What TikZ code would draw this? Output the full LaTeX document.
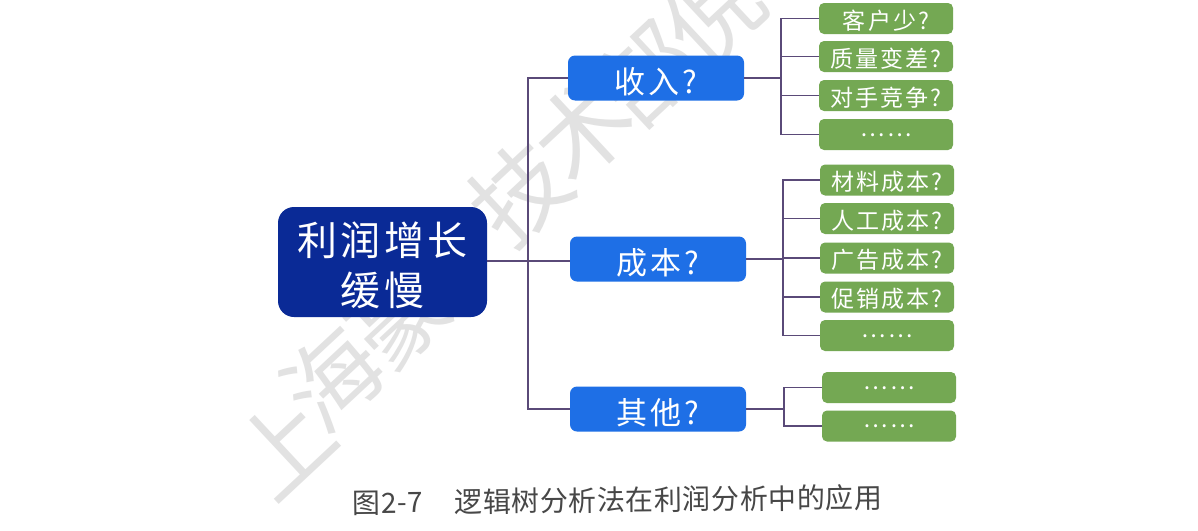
\documentclass[tikz,border=0pt]{standalone}
\usepackage{fontspec}
\setmainfont{Noto Sans CJK SC}
\newfontfamily\boxfont[LetterSpace=9]{Noto Sans CJK SC}
\newfontfamily\capfont[LetterSpace=2]{Noto Sans CJK SC}
\newcommand{\leafdots}{\raisebox{9pt}{……}}
\definecolor{navybox}{HTML}{0A2A96}
\definecolor{bluebox}{HTML}{1E6FE6}
\definecolor{greenbox}{HTML}{74A853}
\definecolor{linkline}{HTML}{5A4A78}
\definecolor{markgray}{HTML}{E2E2E2}
\tikzset{
  rootbox/.style={fill=navybox, text=white, rounded corners=16pt, minimum width=209pt, minimum height=110pt, inner sep=0pt, align=center, font=\boxfont\fontsize{40}{50}\selectfont},
  midbox/.style={fill=bluebox, text=white, rounded corners=7pt, minimum width=176pt, minimum height=45pt, inner sep=0pt, text height=34pt, text depth=4pt, font=\boxfont\fontsize{31}{36}\selectfont},
  leafbox/.style={fill=greenbox, text=white, rounded corners=5pt, minimum width=134pt, minimum height=31pt, inner sep=0pt, text height=24pt, text depth=2.6pt, font=\boxfont\fontsize{23}{28}\selectfont},
  link/.style={draw=linkline, line width=1.5pt},
  markchar/.style={text=markgray, rotate=43, inner sep=0pt, font=\fontsize{95}{100}\selectfont}
}

\begin{document}
\begin{tikzpicture}[x=1pt,y=-1pt]
\useasboundingbox [fill=white] (0,0) rectangle (1198,530);

\foreach \ch/\px/\py in {上/283/446,海/332/378,豪/398/316,技/520/193,术/583/130,部/647/73,倪/713/13}
  \node [markchar] (mark\ch) at (\px,\py) {\ch};

\coordinate (trunk) at (528,261);
\coordinate (incomejoin) at (781,78);
\coordinate (costjoin) at (783,259);
\coordinate (otherjoin) at (784,409);

\node [rootbox] (root) at (382.5,262) {\rule{0pt}{40pt}利润增长\\缓慢};
\node [midbox] (income) at (656,78) {收入?};
\node [midbox] (cost) at (658,259) {成本?};
\node [midbox] (other) at (658,409) {其他?};

\foreach \idx/\txt/\py in {1/客户少?/18.5,2/质量变差?/56.5,3/对手竞争?/95.5,4/\leafdots/134.5}
  \node [leafbox] (income\idx) at (886,\py) {\txt};
\foreach \idx/\txt/\py in {1/材料成本?/180,2/人工成本?/218.5,3/广告成本?/258,4/促销成本?/297,5/\leafdots/335.5}
  \node [leafbox] (cost\idx) at (887,\py) {\txt};
\foreach \idx/\txt/\py in {1/\leafdots/387.5,2/\leafdots/426}
  \node [leafbox] (other\idx) at (889,\py) {\txt};

\draw [link] (root.east |- trunk) -- (cost.west |- trunk);
\draw [link] (income.west) -| (trunk);
\draw [link] (other.west) -| (trunk);

\draw [link] (income.east) -- (incomejoin);
\foreach \idx in {1,2,3,4}
  \draw [link] (incomejoin) |- (income\idx.west);
\draw [link] (cost.east) -- (costjoin);
\foreach \idx in {1,2,3,4,5}
  \draw [link] (costjoin) |- (cost\idx.west);
\draw [link] (other.east) -- (otherjoin);
\foreach \idx in {1,2}
  \draw [link] (otherjoin) |- (other\idx.west);

\node [text=black!72, rotate=0.6, inner sep=0pt, font=\capfont\fontsize{28}{32}\selectfont] (caption) at (617.5,500) {图2-7\hspace{31pt}逻辑树分析法在利润分析中的应用};
\end{tikzpicture}
\end{document}
